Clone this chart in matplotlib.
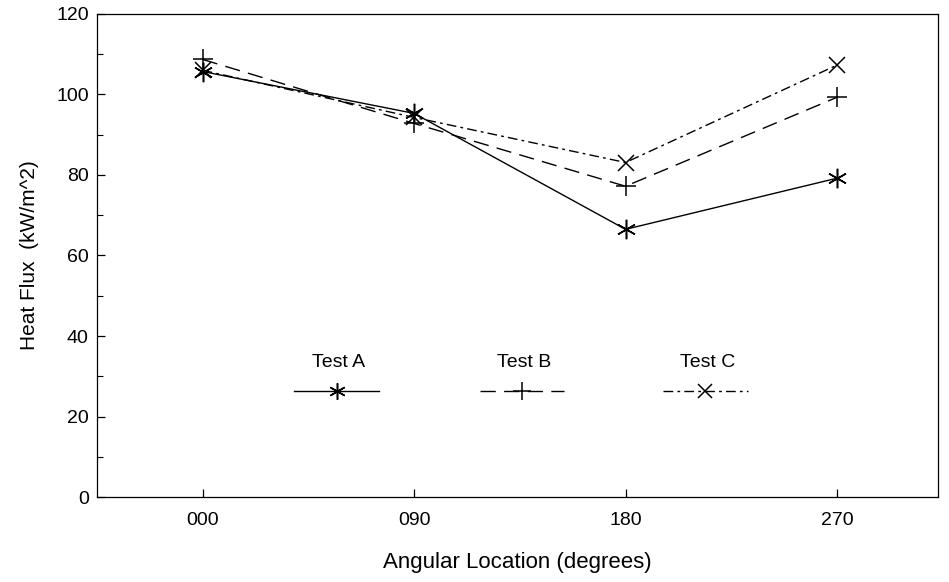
import matplotlib
matplotlib.use("Agg")
import matplotlib.pyplot as plt

angles = [0, 90, 180, 270]
angle_labels = ["000", "090", "180", "270"]

test_a = [105.7, 95.3, 66.5, 79.2]
test_b = [108.7, 92.8, 77.2, 99.3]
test_c = [106.0, 94.3, 83.1, 107.3]

legend_names = ["Test A", "Test B", "Test C"]
legend_x = [57, 136, 214]
legend_y = 26.3

plt.rcParams["font.family"] = ["Liberation Sans", "DejaVu Sans"]

fig = plt.figure(figsize=(9.49, 5.82), dpi=100)
ax = fig.add_axes([0.1022, 0.146, 0.8862, 0.830])

styles = [
    dict(ls="-", marker=(6, 2, 0), ms=14),
    dict(ls=(0, (11, 6)), marker="+", ms=15),
    dict(ls=(0, (7, 3, 2, 3)), marker="x", ms=12),
]

for vals, st in zip([test_a, test_b, test_c], styles):
    ax.plot(angles, vals, color="black", lw=1.0, linestyle=st["ls"],
            marker=st["marker"], markersize=st["ms"], mew=1.1,
            markeredgecolor="black")

# legend drawn inside the plot as in the original
for name, lx, st in zip(legend_names, legend_x, styles):
    ax.plot([lx - 18, lx + 18], [legend_y, legend_y], color="black", lw=1.0,
            linestyle=st["ls"])
    ax.plot([lx], [legend_y], color="black", marker=st["marker"],
            markersize=st["ms"] * 0.85, mew=1.1)
    ax.text(lx + 1, legend_y + 7, name, ha="center", va="center", fontsize=14)

ax.set_xlim(-45, 313)
ax.set_ylim(0, 120)
ax.set_xticks(angles)
ax.set_xticklabels(angle_labels)
ax.set_yticks(range(0, 121, 20))
ax.set_yticks(range(10, 120, 20), minor=True)

ax.tick_params(axis="both", which="major", direction="in", length=6,
               width=0.9, labelsize=14)
ax.tick_params(axis="y", which="minor", direction="in", length=4, width=0.8)
ax.tick_params(axis="x", pad=11)
ax.tick_params(axis="y", pad=6)

for sp in ax.spines.values():
    sp.set_linewidth(0.9)

ax.set_xlabel("Angular Location (degrees)", fontsize=16, labelpad=16)
ax.set_ylabel("Heat Flux  (kW/m^2)", fontsize=15, labelpad=12)

fig.savefig("out.png", dpi=100)
